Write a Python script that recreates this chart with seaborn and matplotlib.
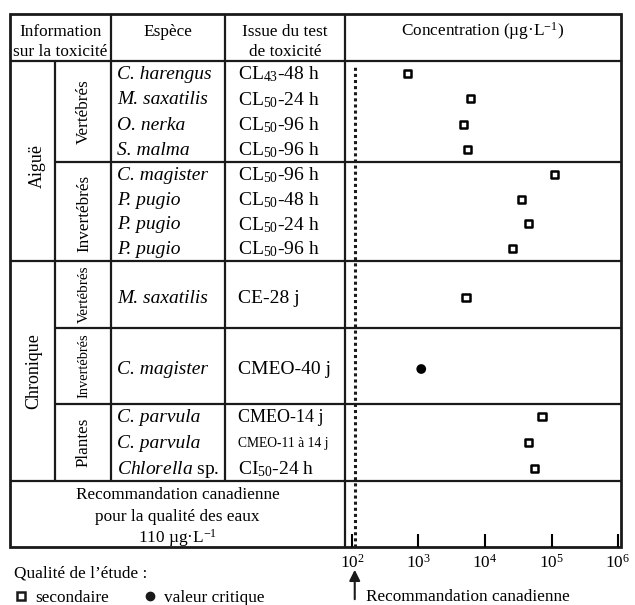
import matplotlib
matplotlib.use("Agg")
import matplotlib.pyplot as plt
from matplotlib.lines import Line2D
import pandas as pd
import seaborn as sns

# Données
groupes = ["Aiguë", "Chronique"]
sous_groupes = ["Vertébrés", "Invertébrés", "Vertébrés", "Invertébrés", "Plantes"]
n_par_sous_groupe = [4, 4, 1, 1, 3]
especes = ["C. harengus", "M. saxatilis", "O. nerka", "S. malma",
           "C. magister", "P. pugio", "P. pugio", "P. pugio",
           "M. saxatilis",
           "C. magister",
           "C. parvula", "C. parvula", "$\\mathit{Chlorella}$ sp."]
tests = ["CL$_{43}$-48 h", "CL$_{50}$-24 h", "CL$_{50}$-96 h", "CL$_{50}$-96 h",
         "CL$_{50}$-96 h", "CL$_{50}$-48 h", "CL$_{50}$-24 h", "CL$_{50}$-96 h",
         "CE-28 j",
         "CMEO-40 j",
         "CMEO-14 j", "CMEO-11 à 14 j", "CI$_{50}$-24 h"]
concentration = [690, 6100, 4800, 5500,
                 110000, 35000, 45000, 26000,
                 5200,
                 1100,
                 72000, 45000, 56000]
qualite = ["secondaire"] * 9 + ["valeur critique"] + ["secondaire"] * 3
recommandation = 110
graduations = [1e2, 1e3, 1e4, 1e5, 1e6]
etiquettes = ["10$^{2}$", "10$^{3}$", "10$^{4}$", "10$^{5}$", "10$^{6}$"]

sns.set_theme(style="white")
plt.rcParams["font.family"] = ["Liberation Serif", "DejaVu Serif"]
plt.rcParams["mathtext.fontset"] = "custom"
plt.rcParams["mathtext.rm"] = "Liberation Serif"
plt.rcParams["mathtext.it"] = "Liberation Serif:italic"
plt.rcParams["text.color"] = "black"
plt.rcParams["xtick.color"] = "black"

# mise en page du tableau (pixels depuis le haut)
W, H = 635, 605
xc = [10, 55, 111, 225, 345, 621]
y_haut, y_entete = 14, 61
y_sg = [61, 162, 261, 328, 404, 481]
y_bas = 547

# centres des lignes
centres = []
for i, n in enumerate(n_par_sous_groupe):
    t, b = y_sg[i], y_sg[i + 1]
    pas = (b - t) / n
    for k in range(n):
        centres.append(t + pas * (k + 0.5) + (3 if n == 1 else 0))

fig = plt.figure(figsize=(W / 100, H / 100), dpi=100)
bg = fig.add_axes([0, 0, 1, 1])
bg.set_xlim(0, W)
bg.set_ylim(H, 0)
bg.axis("off")

# traits du tableau
lw_int, lw_ext = 1.6, 2.0
bg.hlines([y_entete, y_sg[2], y_sg[5]], xc[0], xc[-1], color="k", lw=lw_int)
bg.hlines([y_sg[1], y_sg[3], y_sg[4]], xc[1], xc[-1], color="k", lw=lw_int)
bg.vlines(xc[1], y_entete, y_sg[-1], color="k", lw=lw_int)
bg.vlines([xc[2], xc[3]], y_haut, y_sg[-1], color="k", lw=lw_int)
bg.vlines(xc[4], y_haut, y_bas, color="k", lw=lw_int)
bg.add_patch(plt.Rectangle((xc[0], y_haut), xc[-1] - xc[0], y_bas - y_haut,
                           fill=False, lw=lw_ext, ec="k"))

# en-têtes
fs_h = 12.4
bg.text((xc[0] + xc[2]) / 2, 32, "Information", ha="center", va="center", fontsize=fs_h)
bg.text((xc[0] + xc[2]) / 2, 52, "sur la toxicité", ha="center", va="center", fontsize=fs_h)
bg.text((xc[2] + xc[3]) / 2, 32, "Espèce", ha="center", va="center", fontsize=fs_h)
bg.text((xc[3] + xc[4]) / 2, 32, "Issue du test", ha="center", va="center", fontsize=fs_h)
bg.text((xc[3] + xc[4]) / 2, 52, "de toxicité", ha="center", va="center", fontsize=fs_h)
bg.text((xc[4] + xc[5]) / 2, 31, "Concentration (µg·L$^{-1}$)", ha="center", va="center",
        fontsize=fs_h)

# groupes et sous-groupes
bg.text(37, 166, groupes[0], rotation=90, ha="center", va="center", fontsize=13)
bg.text(34, (y_sg[2] + y_sg[5]) / 2, groupes[1], rotation=90, ha="center", va="center",
        fontsize=13)
tailles_sg = [12.3, 12.3, 11, 10.4, 12.3]
for i, sg in enumerate(sous_groupes):
    bg.text(84, (y_sg[i] + y_sg[i + 1]) / 2 + (2 if i == 1 else 0), sg, rotation=90,
            ha="center", va="center", fontsize=tailles_sg[i])

# espèces et tests
for esp, tst, yc in zip(especes, tests, centres):
    style = "normal" if "$" in esp else "italic"
    bg.text(117, yc + 1, esp, ha="left", va="center", fontsize=14, style=style)
    fs = 9.8 if "à" in tst else (13 if tst.startswith("CMEO-1") else 14)
    bg.text(238, yc + 1, tst, ha="left", va="center", fontsize=fs)

# recommandation
for yy, ligne in zip([495, 517, 538], ["Recommandation canadienne",
                                        "pour la qualité des eaux",
                                        f"{recommandation} µg·L$^{{-1}}$"]):
    bg.text((xc[0] + xc[4]) / 2, yy, ligne, ha="center", va="center", fontsize=fs_h)

# axe des concentrations
ax = fig.add_axes([xc[4] / W, 1 - y_bas / H, (xc[5] - xc[4]) / W, (y_bas - y_entete) / H])
ax.patch.set_alpha(0)
df = pd.DataFrame({"concentration": concentration, "y": centres, "qualite": qualite})
sns.scatterplot(data=df, x="concentration", y="y", hue="qualite", style="qualite",
                palette={"secondaire": "white", "valeur critique": "black"},
                markers={"secondaire": "s", "valeur critique": "o"},
                s=27, edgecolor="black", linewidth=1.8, legend=False, ax=ax, zorder=3)
ax.set_xscale("log")
ax.set_xlim(10 ** 1.895, 10 ** 6.045)
ax.set_ylim(y_bas, y_entete)
ax.axvline(recommandation, ymin=0, ymax=(y_bas - 65) / (y_bas - y_entete), color="k",
           lw=2.2, ls=(0, (1, 1)), dash_capstyle="butt")
ax.set_xticks(graduations)
ax.set_xticklabels(etiquettes)
ax.minorticks_off()
ax.tick_params(axis="x", direction="in", length=9.5, width=1.5, pad=5, labelsize=12.4,
               bottom=True, top=False)
ax.tick_params(axis="y", left=False, labelleft=False)
ax.set_xlabel("")
ax.set_ylabel("")
for s in ax.spines.values():
    s.set_visible(False)

# flèche de la recommandation
ax.annotate("", xy=(recommandation, H - 567), xycoords=("data", "figure pixels"),
            xytext=(recommandation, H - 602), textcoords=("data", "figure pixels"),
            arrowprops=dict(arrowstyle="-|>", color="k", lw=1.5, mutation_scale=16))
ax.annotate("Recommandation canadienne", xy=(recommandation, H - 597),
            xycoords=("data", "figure pixels"), xytext=(8, 0), textcoords="offset points",
            ha="left", va="center", fontsize=fs_h)

# légende
poignees = [Line2D([], [], marker="s", ls="", mfc="white", mec="k", mew=1.8, ms=5.2),
            Line2D([], [], marker="o", ls="", color="k", ms=6)]
leg = fig.legend(poignees, ["secondaire", "valeur critique"],
                 title="Qualité de l’étude :", loc="upper left",
                 bbox_to_anchor=(14 / W, 1 - 566 / H), ncol=2, frameon=False,
                 borderpad=0, borderaxespad=0, handlelength=0.8, handletextpad=0.45,
                 columnspacing=1.95, labelspacing=0.3, fontsize=fs_h, title_fontsize=fs_h,
                 alignment="left")
leg._legend_box.sep = 6

fig.savefig("out.png", dpi=100)
